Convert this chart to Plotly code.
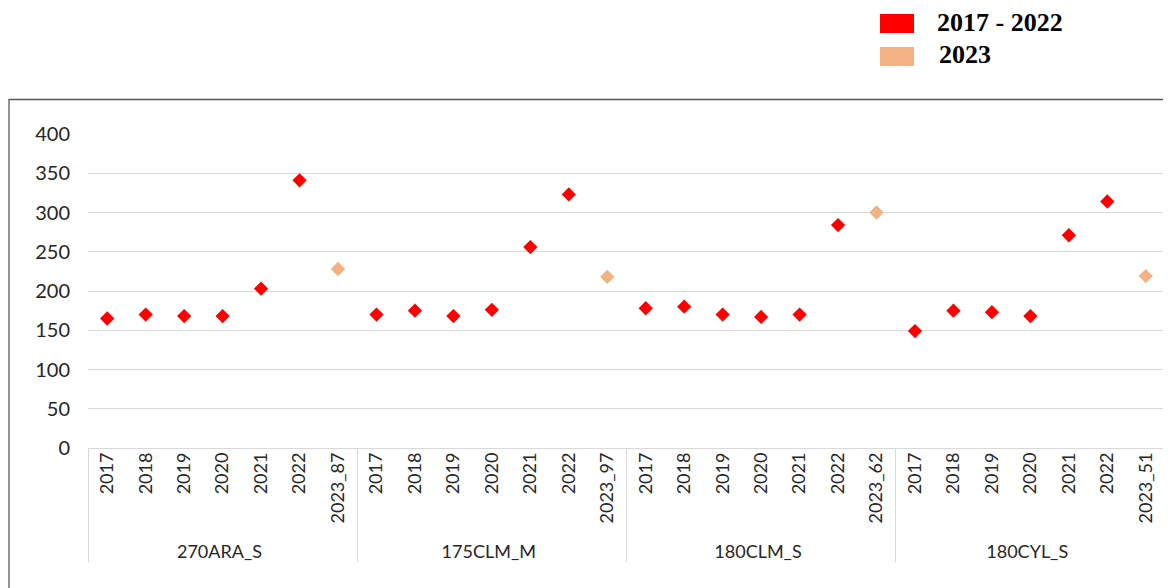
import plotly.graph_objects as go

groups = ["270ARA_S", "175CLM_M", "180CLM_S", "180CYL_S"]
years = ["2017", "2018", "2019", "2020", "2021", "2022"]
last_labels = ["2023_87", "2023_97", "2023_62", "2023_51"]
values_2017_2022 = [
    [165, 170, 168, 168, 203, 341],
    [170, 175, 168, 176, 256, 323],
    [178, 180, 170, 167, 170, 284],
    [149, 175, 173, 168, 271, 314],
]
values_2023 = [228, 218, 300, 219]

RED = "#FF0000"
PEACH = "#F4B183"

xg, xc, yv, cols = [], [], [], []
for g, vals, lab, v23 in zip(groups, values_2017_2022, last_labels, values_2023):
    for yr, v in zip(years, vals):
        xg.append(g); xc.append(yr); yv.append(v); cols.append(RED)
    xg.append(g); xc.append(lab); yv.append(v23); cols.append(PEACH)
n_cat = len(xc)

# page has an 8px body margin; work in page pixel coordinates
OFF = 8
W, H = 1171 - OFF, 588 - OFF
L = 88 - OFF
R = W - (1165 - OFF)
T = 134 - OFF
B = H - (448 - OFF)
pw, ph = W - L - R, H - T - B

def px(x):
    return (x - OFF - L) / pw

def py(y):
    return (H - B - (y - OFF)) / ph

fig = go.Figure()
fig.add_trace(go.Scatter(
    x=[xg, xc], y=yv, mode="markers",
    marker=dict(symbol="diamond", size=11, color=cols, line=dict(width=0)),
    showlegend=False, hoverinfo="x+y",
))

shapes = [
    dict(type="rect", xref="paper", yref="paper",
         x0=px(9), x1=px(1190), y0=py(610), y1=py(99.5),
         line=dict(color="#595959", width=1.3), fillcolor="rgba(0,0,0,0)", layer="below"),
    dict(type="rect", xref="paper", yref="paper",
         x0=px(880), x1=px(914), y0=py(33), y1=py(14),
         line=dict(width=0), fillcolor=RED),
    dict(type="rect", xref="paper", yref="paper",
         x0=px(880), x1=px(914), y0=py(66), y1=py(47),
         line=dict(width=0), fillcolor=PEACH),
]
annotations = [
    dict(xref="paper", yref="paper", x=px(935), y=py(23), xanchor="left", yanchor="middle",
         text="<b>2017 - 2022</b>", showarrow=False,
         font=dict(family="Liberation Serif", size=26, color="black")),
    dict(xref="paper", yref="paper", x=px(937), y=py(55), xanchor="left", yanchor="middle",
         text="<b>2023</b>", showarrow=False,
         font=dict(family="Liberation Serif", size=26, color="black")),
]

fig.update_layout(
    width=W, height=H,
    margin=dict(l=L, r=R, t=T, b=B, autoexpand=False),
    paper_bgcolor="white", plot_bgcolor="white",
    font=dict(family="Lato", size=18, color="#262626"),
    shapes=shapes, annotations=annotations,
    showlegend=False,
)
fig.update_yaxes(
    range=[0, 400], tickvals=[0, 50, 100, 150, 200, 250, 300, 350, 400],
    showgrid=True, gridcolor="#D9D9D9", gridwidth=1,
    zeroline=True, zerolinecolor="#D9D9D9", zerolinewidth=1,
    showline=False, ticks="", ticklabelstandoff=17,
    tickfont=dict(family="Lato", size=20, color="#262626"),
    automargin=False,
)
fig.update_xaxes(
    type="multicategory", tickangle=-90,
    range=[-0.5, n_cat - 0.5],
    showgrid=False, showline=False, ticks="",
    showdividers=True, dividercolor="#D9D9D9", dividerwidth=1,
    tickfont=dict(family="Lato", size=18, color="#262626"),
    automargin=False,
)

fig.write_html("out.html")
